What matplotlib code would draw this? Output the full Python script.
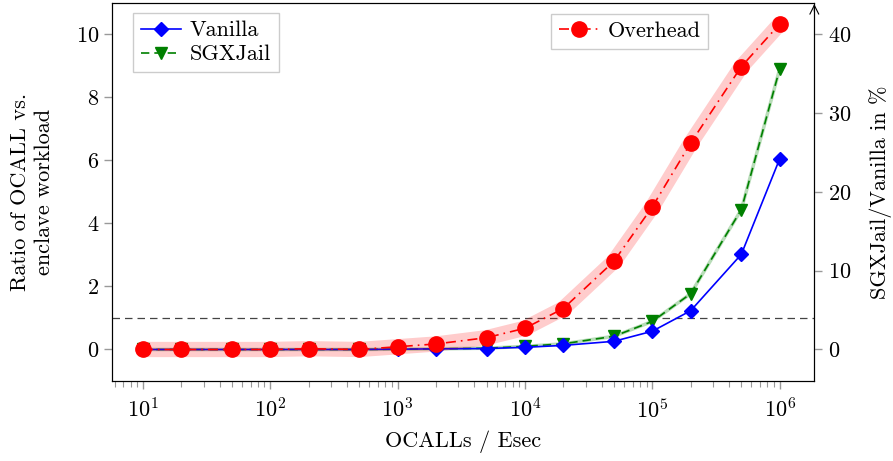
import numpy as np
import matplotlib
matplotlib.use("Agg")
from matplotlib import pyplot as plt

plt.rcParams['font.family'] = 'serif'
plt.rcParams['font.serif'] = ['cmr10', 'DejaVu Serif']
plt.rcParams['mathtext.fontset'] = 'cm'
plt.rcParams['axes.formatter.use_mathtext'] = True
plt.rcParams['font.size'] = 16

# data
ocalls = [10, 20, 50, 100, 200, 500, 1000, 2000, 5000, 10000,
          20000, 50000, 100000, 200000, 500000, 1000000]
vanilla = [0, 0, 0, 0, 0, 0, 0.01, 0.02, 0.03, 0.07,
           0.13, 0.26, 0.58, 1.23, 3.02, 6.05]
sgxjail = [0, 0, 0, 0, 0, 0, 0.01, 0.02, 0.04, 0.10,
           0.18, 0.42, 0.89, 1.77, 4.44, 8.9]
overhead = [0, 0, 0, 0, 0.1, 0, 0.35, 0.7, 1.5, 2.7,
            5.2, 11.2, 18.1, 26.2, 35.9, 41.3]

fig = plt.figure(figsize=(8.93, 4.61), dpi=100)
ax = fig.add_axes([0.1258, 0.1735, 0.7861, 0.8205])
ax2 = ax.twinx()

# left axis: ratios
ax.plot(ocalls, sgxjail, color='#b8dcb8', lw=2.5, zorder=2)
l1, = ax.plot(ocalls, vanilla, color='blue', lw=1.2, marker='D', ms=7,
              label='Vanilla', zorder=4)
l2, = ax.plot(ocalls, sgxjail, color='green', lw=1.2, ls=(0, (5, 3)),
              marker='v', ms=9, label='SGXJail', zorder=3)
ax.axhline(1, color='#444444', lw=0.9, ls=(0, (6, 4)), zorder=1)

# right axis: overhead in %
ax2.plot(ocalls, overhead, color='red', alpha=0.2, lw=11,
         solid_capstyle='round', zorder=1)
l3, = ax2.plot(ocalls, overhead, color='red', lw=1.2, ls=(0, (6, 3, 1, 3)),
               marker='o', ms=11, label='Overhead', zorder=2)

ax.set_xscale('log')
ax.set_xlim(10**0.76, 10**6.272)
ax.set_ylim(-1, 11)
ax2.set_ylim(-4, 44)
ax.set_yticks([0, 2, 4, 6, 8, 10])
ax2.set_yticks([0, 10, 20, 30, 40])

ax.set_xlabel('OCALLs / Esec', labelpad=6)
ax.set_ylabel('Ratio of OCALL vs.\nenclave workload', linespacing=1.25, labelpad=16)
ax2.set_ylabel('SGXJail/Vanilla in %', labelpad=13)

for a in (ax, ax2):
    a.tick_params(axis='both', which='major', color='#999999', length=6, width=1,
                  direction='out')
    a.tick_params(axis='x', which='minor', color='#999999', length=4, width=0.8)
ax.tick_params(axis='x', which='major', pad=6)

# little arrow on top of the right axis
ax2.annotate('', xy=(1, 1.004), xytext=(1, 0.97), xycoords='axes fraction',
             arrowprops=dict(arrowstyle='->', color='black', lw=0.8))

ax.legend(handles=[l1, l2], loc='upper left', bbox_to_anchor=(0.03, 0.973),
          borderaxespad=0, fancybox=False, edgecolor='#cccccc', framealpha=1,
          handlelength=1.8, borderpad=0.35, labelspacing=0.2, handletextpad=0.4)
ax2.legend(handles=[l3], loc='upper right', bbox_to_anchor=(0.849, 0.971),
           borderaxespad=0, fancybox=False, edgecolor='#cccccc', framealpha=1,
           handlelength=1.8, borderpad=0.35, handletextpad=0.4)

fig.savefig('out.png', dpi=100)
